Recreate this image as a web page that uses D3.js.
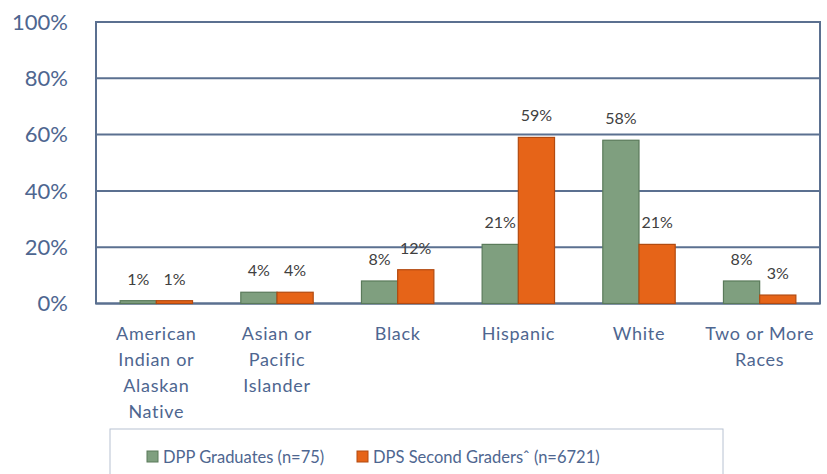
<!DOCTYPE html>
<html>
<head>
<meta charset="utf-8">
<script src="https://cdn.jsdelivr.net/npm/d3@7"></script>
<style>
  body { margin: 0; background: #fff; }
  svg { display: block; font-family: Lato, "Open Sans", sans-serif; }
</style>
</head>
<body>
<svg id="chart"></svg>
<script>
const categories = [
  ["American", "Indian or", "Alaskan", "Native"],
  ["Asian or", "Pacific", "Islander"],
  ["Black"],
  ["Hispanic"],
  ["White"],
  ["Two or More", "Races"]
];
const seriesNames = ["DPP Graduates (n=75)", "DPS Second Graders\u02C6 (n=6721)"];
const dppValues = [1, 4, 8, 21, 58, 8];
const dpsValues = [1, 4, 12, 59, 21, 3];
const yTicks = [0, 20, 40, 60, 80, 100];

const W = 827, H = 474;
const margin = { left: 96, right: 7, top: 22, bottom: 170 };
const axisColor = "#5b7090";
const fills = ["#7f9f7f", "#e66418"];
const strokes = ["#5a7a5a", "#b24a10"];

const svg = d3.select("#chart").attr("width", W).attr("height", H);

// one band per category, bars sit side by side at its centre
const xCat = d3.scaleBand()
  .domain(d3.range(categories.length))
  .range([margin.left, W - margin.right]);
const barW = xCat.bandwidth() * 0.3;

const y = d3.scaleLinear().domain([0, 100]).range([H - margin.bottom - 0.5, margin.top]);

// gridlines
svg.append("g").selectAll("line")
  .data(yTicks)
  .enter().append("line")
  .attr("x1", margin.left).attr("x2", W - margin.right)
  .attr("y1", d => y(d)).attr("y2", d => y(d))
  .attr("stroke", axisColor).attr("stroke-width", 2);

// plot frame
svg.append("rect")
  .attr("x", margin.left).attr("y", y(100))
  .attr("width", W - margin.right - margin.left)
  .attr("height", y(0) - y(100))
  .attr("fill", "none").attr("stroke", axisColor).attr("stroke-width", 2);

// y tick labels
svg.append("g").selectAll("text")
  .data(yTicks)
  .enter().append("text")
  .attr("x", 68).attr("y", d => y(d))
  .attr("dy", "0.35em")
  .attr("text-anchor", "end")
  .attr("font-size", 22)
  .attr("fill", "#4e6690")
  .text(d => d + "%");

// bars
const series = [dppValues, dpsValues];
series.forEach((vals, s) => {
  const g = svg.append("g");
  g.selectAll("rect")
    .data(vals)
    .enter().append("rect")
    .attr("x", (d, i) => xCat(i) + xCat.bandwidth() / 2 + (s === 0 ? -barW : 0))
    .attr("y", d => y(d))
    .attr("width", barW)
    .attr("height", d => y(0) - y(d))
    .attr("fill", fills[s])
    .attr("stroke", strokes[s])
    .attr("stroke-width", 1.2);
  g.selectAll("text")
    .data(vals)
    .enter().append("text")
    .attr("x", (d, i) => xCat(i) + xCat.bandwidth() / 2 + (s === 0 ? -barW / 2 : barW / 2))
    .attr("y", d => y(d) - 16)
    .attr("text-anchor", "middle")
    .attr("font-size", 16)
    .attr("fill", "#404040")
    .text(d => d + "%");
});

// category labels
const cat = svg.append("g").selectAll("text")
  .data(categories)
  .enter().append("text")
  .attr("x", (d, i) => xCat(i) + xCat.bandwidth() / 2)
  .attr("y", 340)
  .attr("text-anchor", "middle")
  .attr("font-size", 18)
  .attr("letter-spacing", 0.7)
  .attr("fill", "#4e6690");
cat.selectAll("tspan")
  .data(d => d)
  .enter().append("tspan")
  .attr("x", function() { return d3.select(this.parentNode).attr("x"); })
  .attr("dy", (d, i) => i === 0 ? 0 : 26)
  .text(d => d);

// legend
const legend = svg.append("g");
legend.append("rect")
  .attr("x", 110).attr("y", 429)
  .attr("width", 613).attr("height", 60)
  .attr("fill", "#fff").attr("stroke", "#b8c2d2").attr("stroke-width", 1);
const lg = legend.selectAll("g.item")
  .data(seriesNames)
  .enter().append("g")
  .attr("class", "item")
  .attr("transform", (d, i) => `translate(${i === 0 ? 147 : 357},451)`);
lg.append("rect")
  .attr("x", 0).attr("y", 0).attr("width", 11).attr("height", 11)
  .attr("fill", (d, i) => fills[i]).attr("stroke", (d, i) => strokes[i]);
lg.append("text")
  .attr("x", 16).attr("y", 6)
  .attr("dy", "0.35em")
  .attr("font-size", 16.5)
  .attr("fill", "#4e6690")
  .text(d => d);
</script>
</body>
</html>
